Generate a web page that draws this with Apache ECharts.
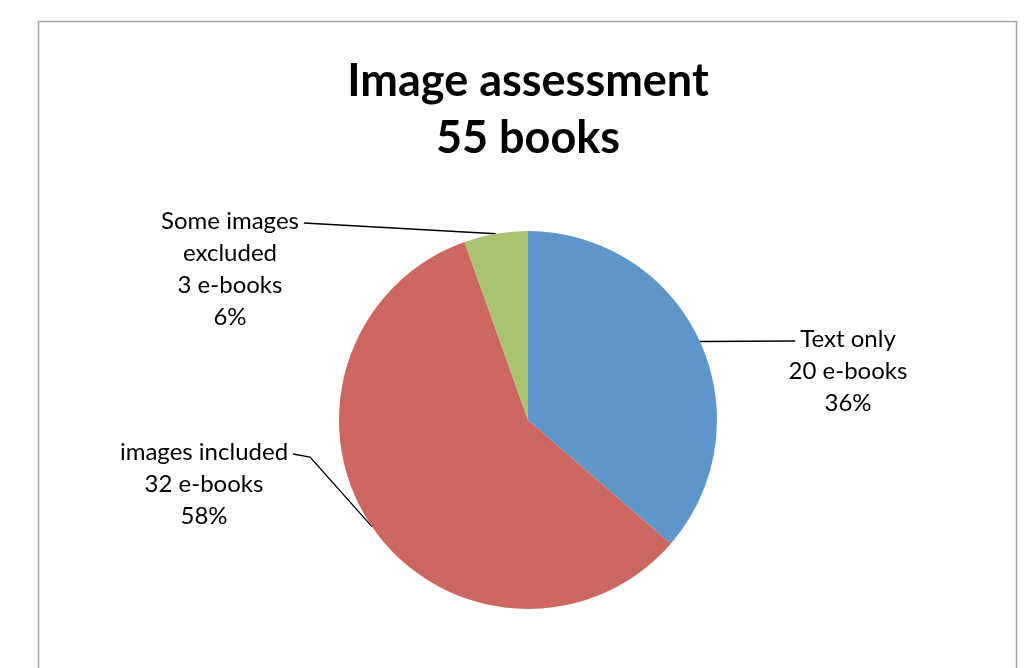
<!DOCTYPE html>
<html>
<head>
<meta charset="utf-8">
<script src="https://cdn.jsdelivr.net/npm/echarts@6/dist/echarts.min.js"></script>
<style>
  html, body { margin: 0; padding: 0; background: #fff; }
  #chart { width: 1036px; height: 668px; }
</style>
</head>
<body>
<div id="chart"></div>
<script>
// data
const categories = ['Text only', 'images included', 'Some images\nexcluded'];
const books = [20, 32, 3];
const colors = ['#5F96CA', '#CC6660', '#A9C46D'];

// where each label sits (centre x, middle y), which side the leader joins, and an optional elbow
const labelSpots = [
  { x: 848, y: 371, side: 'left', bend: null },
  { x: 204, y: 484, side: 'right', bend: [17, 3] },
  { x: 230, y: 269, side: 'right', bend: null }
];

const labelFont = 'Lato';
const labelSize = 24;
const labelLineH = 32;

// measure the first line of a label so the leader can meet its end
const ctx = document.createElement('canvas').getContext('2d');
ctx.font = labelSize + 'px ' + labelFont;
function firstLineWidth(name) {
  return ctx.measureText(name.split('\n')[0]).width;
}

const chart = echarts.init(document.getElementById('chart'));

const option = {
  animation: false,
  title: {
    text: 'Image assessment\n55 books',
    left: 523,
    textAlign: 'center',
    top: 48,
    textStyle: {
      fontFamily: 'Lato',
      fontWeight: 'bold',
      fontSize: 45,
      lineHeight: 57,
      color: '#000'
    }
  },
  graphic: [{
    type: 'rect',
    shape: { x: 38.5, y: 21.5, width: 978, height: 700 },
    style: { fill: 'none', stroke: '#A6A6A6', lineWidth: 1.5 },
    silent: true
  }],
  series: [{
    type: 'pie',
    center: [528, 420],
    radius: 189,
    startAngle: 90,
    clockwise: true,
    percentPrecision: 0,
    data: categories.map((name, i) => ({
      name: name,
      value: books[i],
      itemStyle: { color: colors[i] }
    })),
    label: {
      show: true,
      position: 'outside',
      formatter: '{b}\n{c} e-books\n{d}%',
      fontFamily: labelFont,
      fontSize: labelSize,
      lineHeight: labelLineH,
      color: '#000',
      align: 'center'
    },
    labelLine: {
      show: true,
      length: 20,
      length2: 20,
      lineStyle: { color: '#000', width: 1.3 }
    },
    labelLayout: function (params) {
      const i = params.dataIndex;
      const spot = labelSpots[i];
      const lines = categories[i].split('\n').length + 2;
      const top = spot.y - lines * labelLineH / 2;
      const w = firstLineWidth(categories[i]);
      const endX = spot.side === 'right' ? spot.x + w / 2 + 5 : spot.x - w / 2 - 5;
      const endY = top + labelLineH / 2 + 2;
      const anchor = params.labelLinePoints[0];
      const pts = [anchor];
      if (spot.bend) pts.push([endX + spot.bend[0], endY + spot.bend[1]]);
      pts.push([endX, endY]);
      return {
        x: spot.x,
        y: spot.y,
        align: 'center',
        verticalAlign: 'middle',
        labelLinePoints: pts
      };
    },
    emphasis: { disabled: true }
  }]
};

chart.setOption(option);
</script>
</body>
</html>
